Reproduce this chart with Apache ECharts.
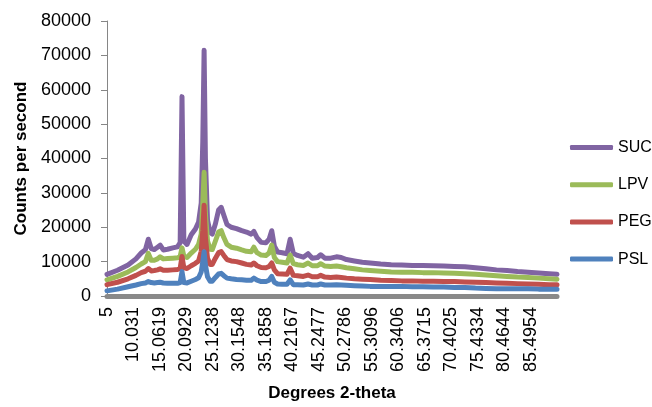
<!DOCTYPE html>
<html>
<head>
<meta charset="utf-8">
<script src="https://cdn.jsdelivr.net/npm/echarts@6/dist/echarts.min.js"></script>
<style>
html,body{margin:0;padding:0;background:#fff;}
#chart{width:652px;height:407px;}
</style>
</head>
<body>
<div id="chart"></div>
<script>
// Degrees 2-theta sample positions
var twoTheta = [5.0,7.0,9.0,10.5,11.5,12.3,12.85,13.4,14.0,14.6,15.1,15.7,16.5,17.5,18.4,18.9,19.25,19.6,20.2,21.0,21.8,22.4,22.9,23.2,23.45,23.7,24.1,24.6,25.0,25.6,26.2,26.7,27.2,27.8,28.6,29.6,30.6,31.5,32.4,32.9,33.5,34.3,35.2,35.8,36.3,36.8,37.4,38.3,39.2,39.8,40.4,41.2,42.3,43.2,44.0,45.0,45.6,46.4,47.5,48.6,49.5,50.5,52.0,53.5,55.0,57.0,59.0,61.0,63.0,65.0,67.0,69.0,71.0,73.0,75.0,77.0,79.0,81.0,83.0,85.0,87.0,89.0,90.5];

var SUC = [6300,7500,9000,10800,12500,13500,16500,13800,13500,14200,14800,13400,13600,14000,14300,15500,58000,16000,15000,17800,19500,21500,27000,45000,71500,40000,22000,18500,18000,21000,25000,25800,23500,20800,20000,19600,19000,18600,18000,18800,17000,15600,15500,16500,19000,14500,12800,12600,12300,16500,12400,11800,11300,12300,11000,11200,12000,11000,11000,11400,11200,10600,10200,9800,9600,9300,9100,9000,8900,8900,8800,8700,8600,8500,8200,7900,7600,7400,7100,6900,6700,6500,6300];
var LPV = [4700,5700,7000,8300,9300,10000,12400,10400,10400,10800,11400,10800,10900,11000,11100,11500,14000,11600,11200,12500,13600,15000,18000,27000,36000,24000,16000,13600,13500,16000,18600,19000,17000,15000,14200,13900,13400,13000,12900,14200,12600,11900,11800,12500,14800,11200,10000,9800,9600,11900,9400,9100,8900,9600,8800,8800,9400,8700,8600,8700,8500,8200,7900,7600,7400,7200,7000,6900,6900,6800,6800,6700,6600,6500,6300,6100,5900,5700,5500,5400,5200,5000,4900];
var PEG = [3300,4000,5000,6000,6800,7200,8000,7300,7400,7600,7900,7500,7500,7600,7700,8000,11500,8200,8000,8800,9500,10200,13000,19000,26400,17000,11000,9200,9200,11000,12600,12900,11800,10600,10200,10000,9600,9200,9000,9600,8800,8300,8200,8600,9600,7600,6500,6400,6300,8100,6000,5900,5700,6100,5600,5600,6000,5500,5400,5500,5400,5200,5000,4900,4800,4600,4500,4400,4400,4300,4300,4200,4200,4100,4000,3900,3800,3700,3600,3500,3400,3300,3300];
var PSL = [1500,2000,2700,3200,3600,3800,4200,3900,3800,3900,4000,3800,3700,3700,3700,3900,7100,3900,3800,4300,4800,5300,7000,10000,12900,9000,5600,4300,4300,5400,6400,6600,5900,5200,5000,4800,4700,4600,4600,5200,4600,4200,4200,4600,5700,4000,3500,3400,3400,4700,3300,3300,3200,3500,3200,3200,3500,3200,3200,3300,3200,3100,3000,2900,2800,2800,2800,2800,2700,2700,2600,2600,2500,2500,2300,2200,2100,2100,2100,2100,2000,2000,2000];

var seriesNames = ['SUC','LPV','PEG','PSL'];
var seriesColors = ['#8064A2','#9BBB59','#C0504D','#4F81BD'];
var xTickLabels = ['5','10.031','15.0619','20.0929','25.1238','30.1548','35.1858','40.2167','45.2477','50.2786','55.3096','60.3406','65.3715','70.4025','75.4334','80.4644','85.4954'];

var X0 = 5;                       // first category of the scan
var X_STEP = (85.4954 - 5) / 16;  // spacing between labelled categories
var X_END = 90.5;

function pairs(ys){
  return twoTheta.map(function(x,i){ return [x - X0, ys[i]]; });
}
var allY = [SUC, LPV, PEG, PSL];

var chart = echarts.init(document.getElementById('chart'), null, {renderer:'canvas'});
var font = 'Liberation Sans, Arial, sans-serif';
chart.setOption({
  animation:false,
  backgroundColor:'#fff',
  grid:{left:107, right:95, top:21, bottom:109, containLabel:false},
  legend:{
    orient:'vertical', left:570, top:139.5, padding:0,
    itemWidth:43, itemHeight:5, itemGap:21.2,
    icon:'roundRect',
    textStyle:{fontFamily:font, fontSize:16, color:'#000', lineHeight:16},
    data:seriesNames
  },
  xAxis:{
    type:'value', min:0, max:X_END - X0, interval:X_STEP, offset:2,
    name:'Degrees 2-theta', nameLocation:'middle', nameGap:87,
    nameTextStyle:{fontFamily:font, fontSize:17, fontWeight:'bold', color:'#000'},
    axisLine:{show:true, lineStyle:{color:'#898989', width:5}},
    axisTick:{show:false},
    splitLine:{show:false},
    axisLabel:{
      rotate:90, margin:9, fontFamily:font, fontSize:18, color:'#000',
      showMaxLabel:false,
      formatter:function(v){
        var k = v / X_STEP, r = Math.round(k);
        if (Math.abs(k - r) > 1e-6) return '';
        return xTickLabels[r] !== undefined ? xTickLabels[r] : '';
      }
    }
  },
  yAxis:{
    type:'value', min:0, max:80000, interval:10000,
    name:'Counts per second', nameLocation:'middle', nameGap:77,
    nameTextStyle:{fontFamily:font, fontSize:17, fontWeight:'bold', color:'#000'},
    axisLine:{show:true, lineStyle:{color:'#868686', width:1}},
    axisTick:{show:true, length:6, lineStyle:{color:'#868686'}},
    splitLine:{show:false},
    axisLabel:{margin:16, fontFamily:font, fontSize:18, color:'#000',
      formatter:function(v){ return String(v); }}
  },
  series: seriesNames.map(function(n,i){
    return {
      name:n, type:'line', data:pairs(allY[i]),
      showSymbol:false, symbol:'none',
      itemStyle:{color:seriesColors[i]},
      lineStyle:{color:seriesColors[i], width:5, cap:'round', join:'round'}
    };
  })
});
</script>
</body>
</html>
